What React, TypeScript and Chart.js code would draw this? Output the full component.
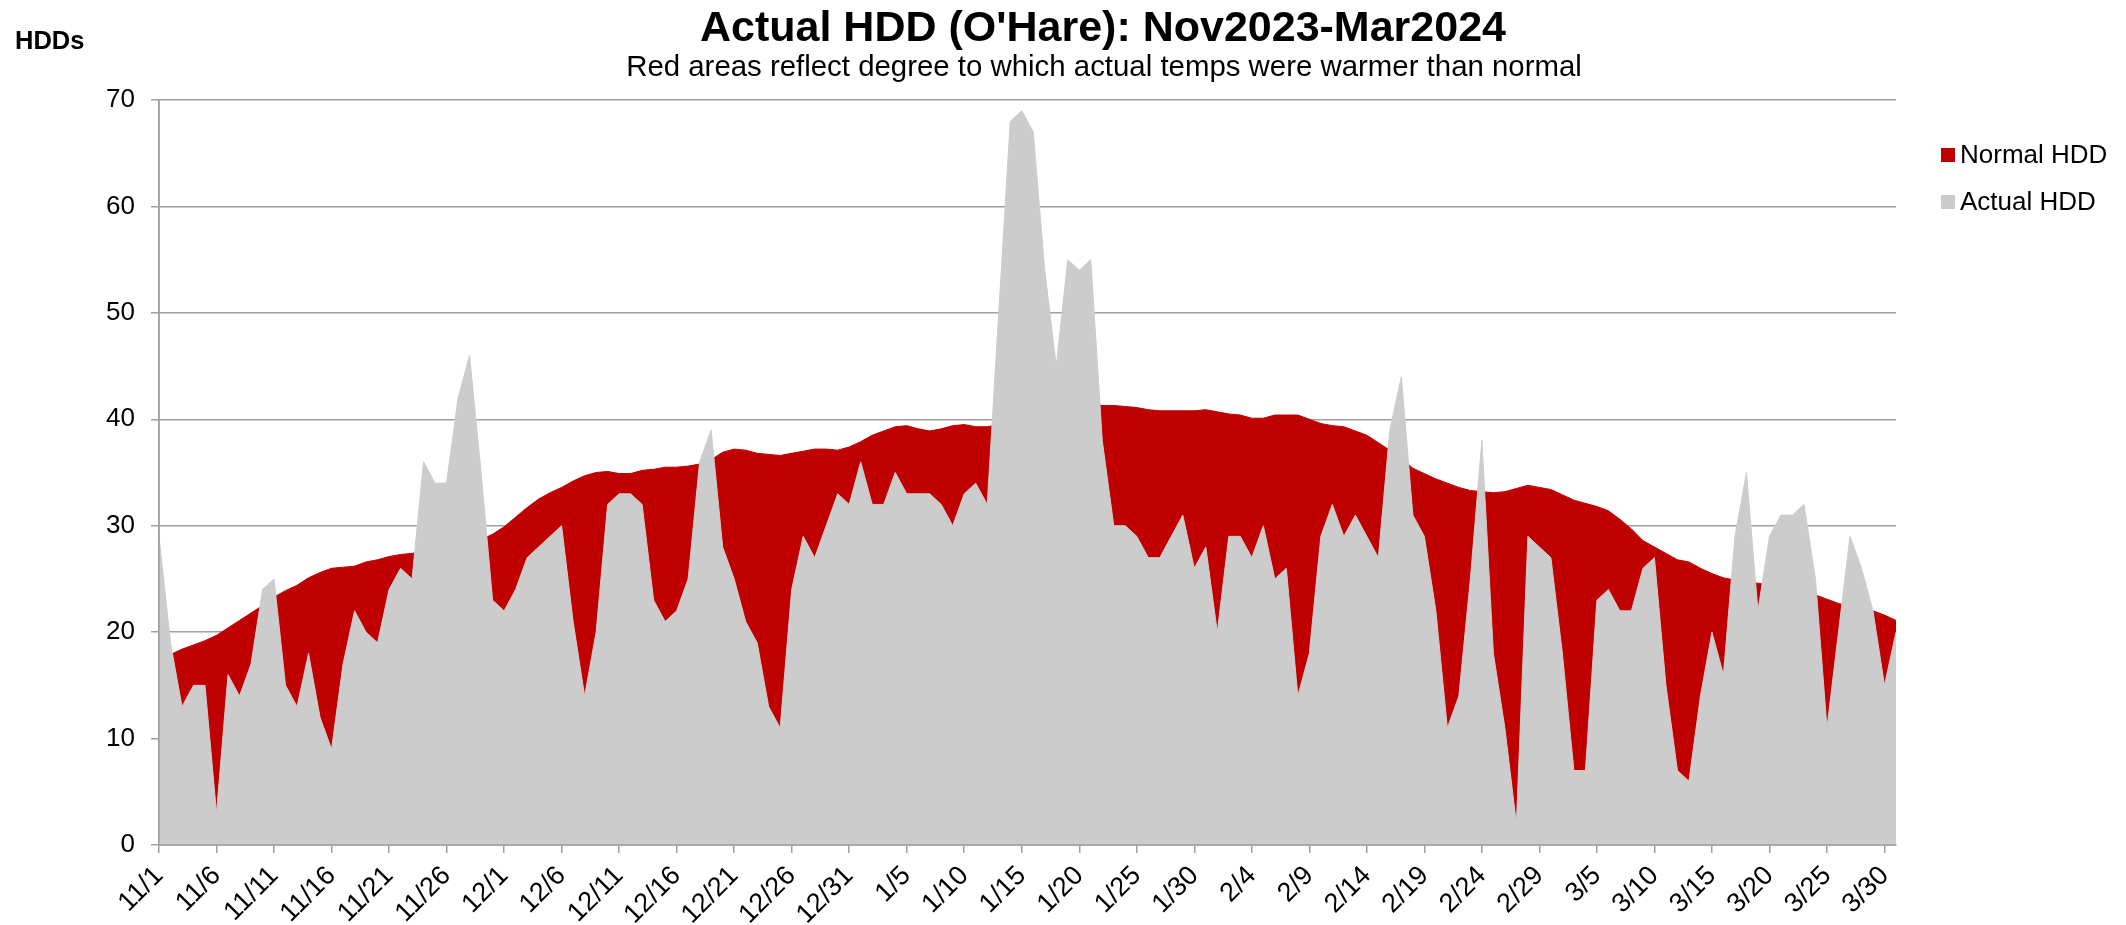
import React, { useEffect, useRef } from "react";
import { Chart, registerables } from "chart.js";

Chart.register(...registerables);

// ---------- data ----------
const MONTHS = [11, 12, 1, 2, 3];
const MONTH_DAYS = [30, 31, 31, 29, 31];
const DATES: string[] = [];
MONTHS.forEach((m, i) => {
  for (let d = 1; d <= MONTH_DAYS[i]; d++) DATES.push(`${m}/${d}`);
});

const NORMAL_HDD = [
  17.6, 17.9, 18.4, 18.8, 19.2, 19.7, 20.4, 21.1, 21.8, 22.5,
  23.3, 23.9, 24.4, 25.1, 25.6, 26.0, 26.1, 26.2, 26.6, 26.8,
  27.1, 27.3, 27.4, 27.6, 27.8, 28.0, 28.2, 28.4, 28.7, 29.2,
  29.9, 30.8, 31.7, 32.5, 33.1, 33.6, 34.2, 34.7, 35.0, 35.1,
  34.9, 34.9, 35.2, 35.3, 35.5, 35.5, 35.6, 35.8, 36.2, 36.9,
  37.2, 37.1, 36.8, 36.7, 36.6, 36.8, 37.0, 37.2, 37.2, 37.1,
  37.4, 37.9, 38.5, 38.9, 39.3, 39.4, 39.1, 38.9, 39.1, 39.4,
  39.5, 39.3, 39.3, 39.5, 39.8, 40.1, 40.4, 40.7, 40.9, 41.1,
  41.3, 41.4, 41.3, 41.3, 41.2, 41.1, 40.9, 40.8, 40.8, 40.8,
  40.8, 40.9, 40.7, 40.5, 40.4, 40.1, 40.1, 40.4, 40.4, 40.4,
  40.0, 39.6, 39.4, 39.3, 38.9, 38.5, 37.8, 37.1, 36.3, 35.4,
  34.9, 34.4, 34.0, 33.6, 33.3, 33.2, 33.1, 33.2, 33.5, 33.8,
  33.6, 33.4, 32.9, 32.4, 32.1, 31.8, 31.4, 30.6, 29.7, 28.6,
  28.0, 27.4, 26.8, 26.6, 26.0, 25.5, 25.1, 24.9, 24.7, 24.6,
  24.4, 24.2, 24.0, 23.8, 23.5, 23.1, 22.7, 22.4, 22.2, 22.0,
  21.6, 21.1,
];

const ACTUAL_HDD = [
  29, 19, 13, 15, 15, 3, 16, 14, 17, 24,
  25, 15, 13, 18, 12, 9, 17, 22, 20, 19,
  24, 26, 25, 36, 34, 34, 42, 46, 35, 23,
  22, 24, 27, 28, 29, 30, 21, 14, 20, 32,
  33, 33, 32, 23, 21, 22, 25, 36, 39, 28,
  25, 21, 19, 13, 11, 24, 29, 27, 30, 33,
  32, 36, 32, 32, 35, 33, 33, 33, 32, 30,
  33, 34, 32, 50, 68, 69, 67, 54, 45, 55,
  54, 55, 38, 30, 30, 29, 27, 27, 29, 31,
  26, 28, 20, 29, 29, 27, 30, 25, 26, 14,
  18, 29, 32, 29, 31, 29, 27, 39, 44, 31,
  29, 22, 11, 14, 25, 38, 18, 11, 2, 29,
  28, 27, 18, 7, 7, 23, 24, 22, 22, 26,
  27, 15, 7, 6, 14, 20, 16, 29, 35, 22,
  29, 31, 31, 32, 25, 11, 20, 29, 26, 22,
  15, 20,
];

const SERIES_LABELS = ["Normal HDD", "Actual HDD"];
const SERIES_COLORS = ["#c00000", "#cccccc"];
const Y_MIN = 0;
const Y_MAX = 70;
const Y_STEP = 10;
const LABEL_EVERY = 5;

const TITLE = "Actual HDD (O'Hare): Nov2023-Mar2024";
const SUBTITLE = "Red areas reflect degree to which actual temps were warmer than normal";
const Y_TITLE = "HDDs";

// ---------- styles ----------
const FONT = "'Liberation Sans', Arial, Helvetica, sans-serif";
const GRID = "#a0a0a0";
const W = 2126;
const H = 925;

const textPlugin = {
  id: "customText",
  afterDraw(chart: any) {
    const ctx = chart.ctx;
    const area = chart.chartArea;
    ctx.save();
    ctx.fillStyle = "#000";
    ctx.textAlign = "center";
    ctx.textBaseline = "alphabetic";
    ctx.font = `bold 43px ${FONT}`;
    ctx.fillText(TITLE, 1103, 41);
    ctx.font = `29.4px ${FONT}`;
    ctx.fillText(SUBTITLE, 1104, 76);
    ctx.textAlign = "left";
    ctx.font = `bold 25.5px ${FONT}`;
    ctx.fillText(Y_TITLE, 15, 49);

    // legend
    const ds = chart.data.datasets;
    const lx = area.right + 45;
    const ys = [155, 202];
    ctx.font = `26px ${FONT}`;
    ctx.textBaseline = "middle";
    ds.forEach((d: any, i: number) => {
      ctx.fillStyle = d.backgroundColor;
      ctx.fillRect(lx, ys[i] - 7, 14, 14);
      ctx.fillStyle = "#000";
      ctx.fillText(d.label, lx + 19, ys[i] + 1);
    });
    ctx.restore();
  },
  afterDatasetsDraw(chart: any) {
    const ctx = chart.ctx;
    const a = chart.chartArea;
    ctx.save();
    ctx.strokeStyle = GRID;
    ctx.lineWidth = 1.5;
    ctx.beginPath();
    ctx.moveTo(a.left, a.top);
    ctx.lineTo(a.left, a.bottom);
    ctx.lineTo(a.right, a.bottom);
    ctx.stroke();
    ctx.restore();
  },
};

export default function App() {
  const ref = useRef<HTMLCanvasElement | null>(null);

  useEffect(() => {
    if (!ref.current) return;
    const chart = new Chart(ref.current, {
      type: "line",
      data: {
        labels: DATES,
        datasets: [
          {
            label: SERIES_LABELS[0],
            data: NORMAL_HDD,
            backgroundColor: SERIES_COLORS[0],
            borderColor: SERIES_COLORS[0],
            borderWidth: 1,
            fill: "origin",
            pointRadius: 0,
            tension: 0,
            order: 2,
          },
          {
            label: SERIES_LABELS[1],
            data: ACTUAL_HDD,
            backgroundColor: SERIES_COLORS[1],
            borderColor: SERIES_COLORS[1],
            borderWidth: 1,
            fill: "origin",
            pointRadius: 0,
            tension: 0,
            order: 1,
          },
        ],
      },
      options: {
        responsive: false,
        animation: false,
        events: [],
        layout: { padding: { top: 100, right: 230, left: 0, bottom: 0 } },
        plugins: {
          legend: { display: false },
          title: { display: false },
          tooltip: { enabled: false },
        },
        scales: {
          x: {
            type: "category",
            offset: false,
            grid: {
              display: true,
              drawOnChartArea: false,
              drawTicks: true,
              tickLength: 8,
              lineWidth: 1.5,
              color: (c: any) => (c.index % LABEL_EVERY === 0 ? GRID : "rgba(0,0,0,0)"),
            },
            border: { display: true, color: GRID, width: 1.5 },
            ticks: {
              autoSkip: false,
              minRotation: 45,
              maxRotation: 45,
              padding: 7,
              color: "#000",
              font: { family: FONT, size: 27 },
              callback: (_v: any, i: number) => (i % LABEL_EVERY === 0 ? DATES[i] : ""),
            },
            afterFit: (s: any) => {
              s.height = 80;
            },
          },
          y: {
            min: Y_MIN,
            max: Y_MAX,
            grid: { color: GRID, lineWidth: 1.5, tickLength: 8, drawTicks: true },
            border: { display: true, color: GRID, width: 1.5 },
            ticks: {
              stepSize: Y_STEP,
              padding: 16,
              color: "#000",
              font: { family: FONT, size: 26 },
            },
            afterFit: (s: any) => {
              s.width = 159;
            },
          },
        },
      },
      plugins: [textPlugin],
    });
    return () => chart.destroy();
  }, []);

  return (
    <div style={{ position: "fixed", left: 0, top: 0, width: W, height: H, background: "#fff" }}>
      <canvas ref={ref} width={W} height={H} style={{ width: W, height: H }} />
    </div>
  );
}
